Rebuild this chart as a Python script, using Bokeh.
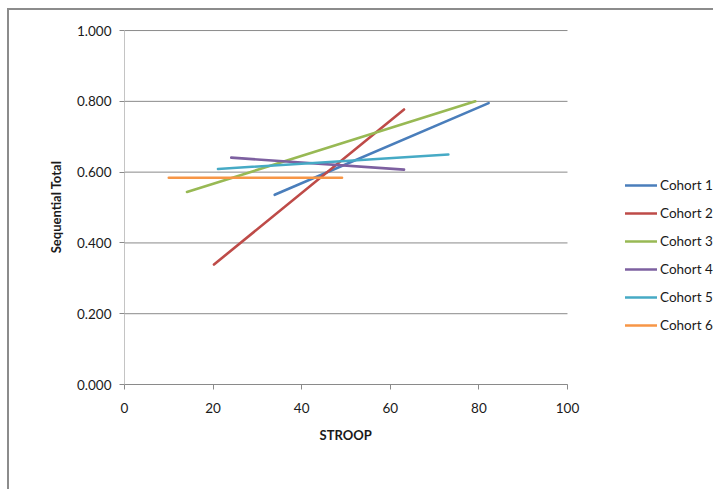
from bokeh.plotting import figure
from bokeh.models import Range1d, FixedTicker, PrintfTickFormatter, Legend, LegendItem, Title
from bokeh.embed import file_html
from bokeh.resources import INLINE

cohorts = ["Cohort 1", "Cohort 2", "Cohort 3", "Cohort 4", "Cohort 5", "Cohort 6"]
stroop_start = [33.9, 20.2, 14.1, 24.1, 21.1, 10.0]
stroop_end = [82.2, 63.1, 79.2, 63.1, 73.1, 49.1]
seq_start = [0.536, 0.339, 0.544, 0.641, 0.609, 0.584]
seq_end = [0.795, 0.777, 0.800, 0.607, 0.650, 0.584]
colors = ["#4A7EBB", "#BE4B48", "#98B954", "#7D60A0", "#46AAC5", "#F79646"]
x_ticks = [0, 20, 40, 60, 80, 100]
y_ticks = [0.0, 0.2, 0.4, 0.6, 0.8, 1.0]
x_min, x_max = 0, 100

FONT = "Lato"
TXT = "#1a1a1a"
GRID = "#8a8a8a"

# plot area spans 0..100; frame extended to the right to hold the legend
p = figure(width=706, height=481, output_backend="svg", toolbar_location=None,
           x_range=Range1d(0, 132.96), y_range=Range1d(0, 1.003),
           min_border_left=115, min_border_top=19, min_border_right=2, min_border_bottom=107)
p.styles = {"margin-left": "7px", "margin-top": "8px",
            "border-left": "2px solid #8c8c8c", "border-top": "2px solid #8c8c8c"}
p.outline_line_color = None
p.background_fill_color = "white"
p.border_fill_color = "white"

p.xgrid.visible = False
p.ygrid.visible = False
# horizontal gridlines only across the 0..100 plot area
p.segment(x0=[x_min] * len(y_ticks), x1=[x_max] * len(y_ticks), y0=y_ticks, y1=y_ticks,
          line_color=GRID, line_width=1)

p.xaxis.ticker = FixedTicker(ticks=x_ticks)
p.xaxis.bounds = (x_min, x_max)
p.yaxis.ticker = FixedTicker(ticks=y_ticks)
p.yaxis.bounds = (0, 1)
p.yaxis.formatter = PrintfTickFormatter(format="%.3f")

for ax in (p.xaxis[0], p.yaxis[0]):
    ax.major_tick_in = 0
    ax.major_tick_out = 5
    ax.minor_tick_in = 0
    ax.minor_tick_out = 0
    ax.major_tick_line_color = GRID
    ax.major_label_text_font = FONT
    ax.major_label_text_font_size = "13.5px"
    ax.major_label_text_color = TXT
    ax.axis_label_text_font = FONT
    ax.axis_label_text_font_size = "13px"
    ax.axis_label_text_font_style = "bold"
    ax.axis_label_text_color = TXT

p.xaxis.axis_line_color = GRID
p.yaxis.axis_line_color = "#c4c4c4"
p.yaxis.axis_label = "Sequential Total"
p.xaxis.major_label_standoff = 13
p.yaxis.major_label_standoff = 8
p.yaxis.axis_label_standoff = 10

xtitle = Title(text="STROOP", align="left", offset=195, standoff=18,
               text_font=FONT, text_font_size="13px", text_font_style="bold",
               text_color=TXT)
p.add_layout(xtitle, "below")

items = []
for name, x0, x1, y0, y1, c in zip(cohorts, stroop_start, stroop_end, seq_start, seq_end, colors):
    r = p.line([x0, x1], [y0, y1], line_color=c, line_width=2.6, line_cap="round")
    items.append(LegendItem(label=name, renderers=[r]))

legend = Legend(items=items, location=(501, 49), orientation="vertical",
                glyph_width=32, glyph_height=20, spacing=8, padding=0, margin=0,
                label_standoff=3, label_text_font=FONT, label_text_font_size="13.5px",
                label_text_color=TXT, border_line_color=None, background_fill_alpha=0)
p.add_layout(legend, "center")

open("out.html", "w").write(file_html(p, INLINE))
